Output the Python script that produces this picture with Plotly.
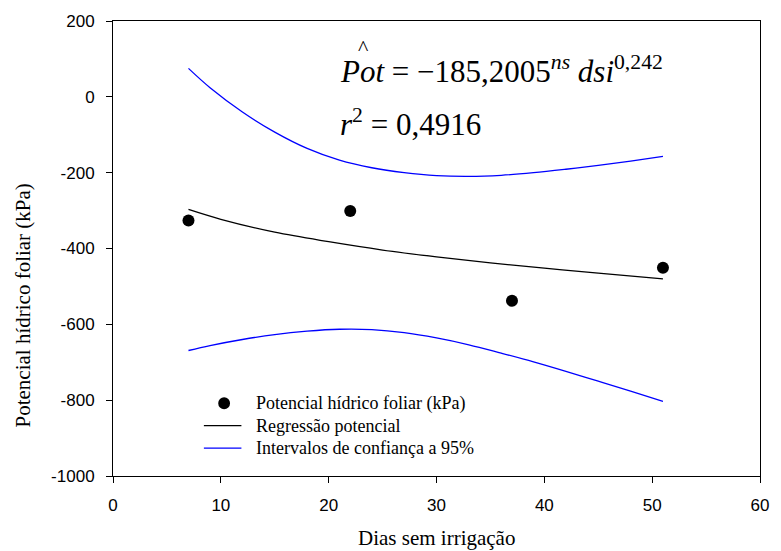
import plotly.graph_objects as go

# Observed data
dsi_obs = [7, 22, 37, 51]
pot_obs = [-326, -301, -538, -451]

# Power regression curve
dsi_fit = [7, 10, 15, 20, 25, 30, 35, 40, 45, 51]
pot_fit = [-297, -323, -357, -382, -404, -422, -438, -452, -465, -480]

# 95% confidence bands
dsi_ci = [7, 9, 12, 15, 18, 21, 24, 27, 30, 33, 36, 39, 42, 45, 48, 51]
ci_upper = [75, 24, -40, -93, -136, -167, -187, -200, -208, -210, -207, -200, -191, -181, -169.5, -157]
ci_lower = [-669, -656, -640, -627, -618, -613, -614, -622, -636, -654, -676, -699, -724, -750, -776, -803]

x_ticks = [0, 10, 20, 30, 40, 50, 60]
y_ticks = [-1000, -800, -600, -400, -200, 0, 200]
y_ticklabels = ["-1000", "-800", "-600", "-400", "-200", "0", "200"]

legend_labels = ["Potencial hídrico foliar (kPa)", "Regressão potencial",
                 "Intervalos de confiança a 95%"]

SERIF = "Liberation Serif"
SANS = "Liberation Sans"
W, H = 781, 551
L, R, T, B = 113, 768, 20, 476


def px(xp):
    return (xp - L) / (R - L)


def py(yp):
    return (B - yp) / (B - T)


fig = go.Figure()
fig.add_trace(go.Scatter(x=dsi_obs, y=pot_obs, mode="markers",
                         marker=dict(color="black", size=12),
                         name=legend_labels[0], showlegend=False))
fig.add_trace(go.Scatter(x=dsi_fit, y=pot_fit, mode="lines",
                         line=dict(color="black", width=1.3, shape="spline"),
                         name=legend_labels[1], showlegend=False))
fig.add_trace(go.Scatter(x=dsi_ci, y=ci_upper, mode="lines",
                         line=dict(color="#0000FF", width=1.3, shape="spline"),
                         name=legend_labels[2], showlegend=False))
fig.add_trace(go.Scatter(x=dsi_ci, y=ci_lower, mode="lines",
                         line=dict(color="#0000FF", width=1.3, shape="spline"),
                         name="lower", showlegend=False))

fig.update_layout(
    width=W, height=H,
    margin=dict(l=L, r=W - R, t=T, b=H - B),
    plot_bgcolor="white", paper_bgcolor="white",
    showlegend=False,
    xaxis=dict(range=[0, 60], tickvals=x_ticks, showgrid=False, zeroline=False,
               showline=True, linecolor="black", linewidth=1, mirror=True,
               ticks="outside", ticklen=6, tickcolor="black", ticklabelstandoff=8,
               tickfont=dict(family=SANS, size=17, color="black")),
    yaxis=dict(range=[-1000, 200], tickvals=y_ticks, ticktext=y_ticklabels,
               showgrid=False, zeroline=False,
               showline=True, linecolor="black", linewidth=1, mirror=True,
               ticks="outside", ticklen=6, tickcolor="black", ticklabelstandoff=8,
               tickfont=dict(family=SANS, size=17, color="black")),
)

# Axis titles
fig.add_annotation(text="Dias sem irrigação", xref="paper", yref="paper",
                   x=0.5, y=py(538.5), xanchor="center", yanchor="middle",
                   showarrow=False, font=dict(family=SERIF, size=21, color="black"))
fig.add_annotation(text="Potencial hídrico foliar (kPa)", xref="paper", yref="paper",
                   x=px(22), y=py(305), xanchor="center", yanchor="middle",
                   textangle=-90, showarrow=False,
                   font=dict(family=SERIF, size=21, color="black"))

# Equation
fig.add_annotation(text="<i>Pot</i> = −185,2005<sup><i>ns</i></sup> <i>dsi</i><sup>0,242</sup>",
                   xref="paper", yref="paper", x=px(341), y=py(69),
                   xanchor="left", yanchor="middle", showarrow=False,
                   font=dict(family=SERIF, size=31, color="black"))
fig.add_annotation(text="^", xref="paper", yref="paper",
                   x=px(367), y=py(47),
                   xanchor="center", yanchor="middle", showarrow=False,
                   font=dict(family=SERIF, size=22, color="black"))
fig.add_annotation(text="<i>r</i><sup>2</sup> = 0,4916",
                   xref="paper", yref="paper", x=px(341), y=py(122),
                   xanchor="left", yanchor="middle", showarrow=False,
                   font=dict(family=SERIF, size=31, color="black"))

# Manual legend
leg_rows = [403, 425.5, 448]
fig.add_shape(type="circle", xref="paper", yref="paper",
              x0=px(219.5), x1=px(231.5), y0=py(397), y1=py(409),
              fillcolor="black", line=dict(color="black", width=0))
fig.add_shape(type="line", xref="paper", yref="paper",
              x0=px(205), x1=px(243), y0=py(leg_rows[1]), y1=py(leg_rows[1]),
              line=dict(color="black", width=1.3))
fig.add_shape(type="line", xref="paper", yref="paper",
              x0=px(205), x1=px(243), y0=py(leg_rows[2]), y1=py(leg_rows[2]),
              line=dict(color="#0000FF", width=1.3))
for lab, yr in zip(legend_labels, leg_rows):
    fig.add_annotation(text=lab, xref="paper", yref="paper",
                       x=px(256), y=py(yr), xanchor="left", yanchor="middle",
                       showarrow=False, font=dict(family=SERIF, size=18, color="black"))

fig.write_html("out.html", config={"displayModeBar": False},
               post_script="document.body.style.margin='0px';"
                           "document.body.style.overflow='hidden';")
